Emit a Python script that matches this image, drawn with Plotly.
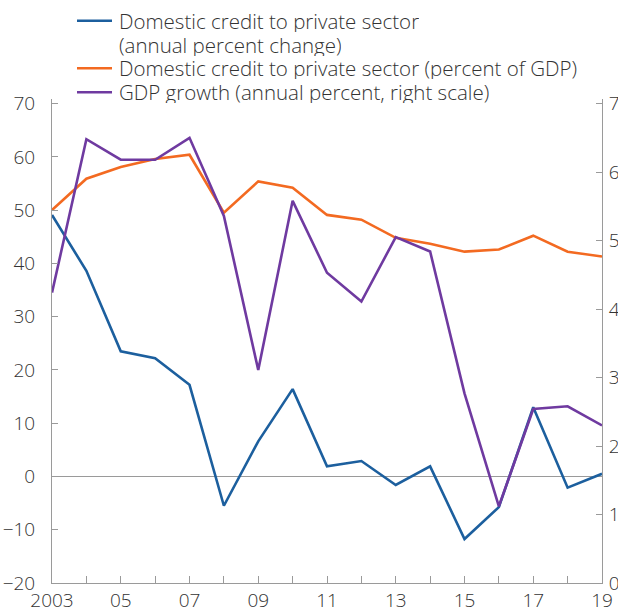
import plotly.graph_objects as go

years = list(range(2003, 2020))
credit_growth = [49.1, 38.6, 23.5, 22.2, 17.2, -5.5, 6.6, 16.4, 1.9, 2.9, -1.6, 1.9, -11.75, -5.75, 13.0, -2.1, 0.5]
credit_gdp = [50.0, 55.9, 58.1, 59.6, 60.4, 49.5, 55.4, 54.2, 49.1, 48.2, 44.8, 43.7, 42.2, 42.6, 45.2, 42.2, 41.3]
gdp_growth = [4.24, 6.48, 6.18, 6.18, 6.5, 5.36, 3.11, 5.58, 4.53, 4.11, 5.05, 4.84, 2.77, 1.12, 2.54, 2.58, 2.30]

x_tick_vals = years
x_tick_text = ["2003", "", "05", "", "07", "", "09", "", "11", "", "13", "", "15", "", "17", "", "19"]
left_ticks = [-20, -10, 0, 10, 20, 30, 40, 50, 60, 70]
right_ticks = [0, 1, 2, 3, 4, 5, 6, 7]

names = [
    "Domestic credit to private sector<br>(annual percent change)",
    "Domestic credit to private sector (percent of GDP)",
    "GDP growth (annual percent, right scale)",
]
colors = ["#1c5f9e", "#f36a21", "#6f3aa0"]

FONT = "Open Sans"
TXT = "#333333"
AX = "#9a9a9a"

W, H = 618, 608
ML, MR, MT, MB = 52, 16, 99, 25
PW, PH = W - ML - MR, H - MT - MB


def px_x(p):
    return (p - ML) / PW


def px_y(p):
    return (H - MB - p) / PH


fig = go.Figure()
fig.add_trace(go.Scatter(x=years, y=credit_growth, name=names[0].replace("<br>", " "), mode="lines",
                         line=dict(color=colors[0], width=2.6), yaxis="y"))
fig.add_trace(go.Scatter(x=years, y=credit_gdp, name=names[1], mode="lines",
                         line=dict(color=colors[1], width=2.6), yaxis="y"))
fig.add_trace(go.Scatter(x=years, y=gdp_growth, name=names[2], mode="lines",
                         line=dict(color=colors[2], width=2.6), yaxis="y2"))

# legend drawn as swatches + text lines (positions in pixels)
leg_rows = [20.7, 68.3, 92.3]
line_gap = 24.3
for name, col, ry in zip(names, colors, leg_rows):
    fig.add_shape(type="line", xref="paper", yref="paper",
                  x0=px_x(77), x1=px_x(112), y0=px_y(ry), y1=px_y(ry),
                  line=dict(color=col, width=2.6))
    for i, part in enumerate(name.split("<br>")):
        fig.add_annotation(xref="paper", yref="paper", x=px_x(118), y=px_y(ry + i * line_gap),
                           xanchor="left", yanchor="middle", align="left", valign="middle",
                           showarrow=False, height=22, borderpad=0,
                           text=part, font=dict(family=FONT, size=20.5, color=TXT, weight=300))

top_left = 70.86
fig.update_layout(
    width=W, height=H,
    margin=dict(l=ML, r=MR, t=MT, b=MB, autoexpand=False),
    paper_bgcolor="white", plot_bgcolor="white",
    font=dict(family=FONT, size=19, color=TXT, weight=300),
    showlegend=False,
    xaxis=dict(range=[2003, 2019], tickvals=x_tick_vals, ticktext=x_tick_text, automargin=False,
               ticks="inside", ticklen=7, tickcolor=AX, showline=True, linecolor=AX, linewidth=1,
               showgrid=False, zeroline=False, tickfont=dict(size=19), ticklabelstandoff=0),
    yaxis=dict(range=[-20, top_left], tickvals=left_ticks, ticks="inside", ticklen=6, tickcolor=AX,
               showline=True, linecolor=AX, linewidth=1, showgrid=False, automargin=False,
               zeroline=True, zerolinecolor=AX, zerolinewidth=1, tickfont=dict(size=19),
               ticklabelstandoff=12),
    yaxis2=dict(range=[0, (top_left + 20) / (90 / 7)], tickvals=right_ticks, overlaying="y", side="right",
                ticks="inside", ticklen=6, tickcolor=AX, showline=True, linecolor=AX, linewidth=1,
                showgrid=False, zeroline=False, tickfont=dict(size=19), ticklabelstandoff=2,
                automargin=False),
)

fig.write_html("out.html", config={"displayModeBar": False},
               post_script="document.body.style.margin='0';")
